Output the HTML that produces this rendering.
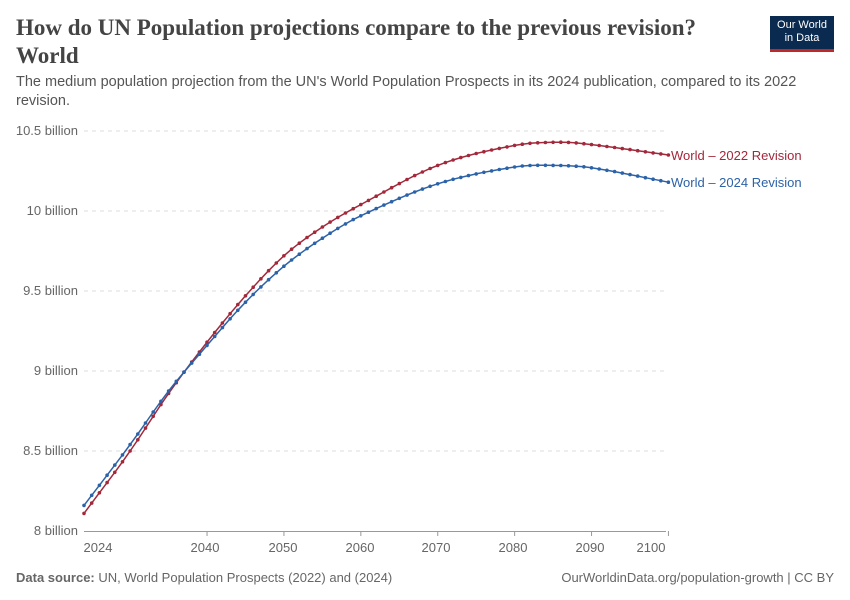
<!DOCTYPE html>
<html><head><meta charset="utf-8"><style>
body{margin:0;width:850px;height:600px;background:#fff;font-family:"Liberation Sans",sans-serif;overflow:hidden;position:relative}
.t{position:absolute;left:16px;top:14px;font-family:"Liberation Serif",serif;font-size:23px;line-height:28px;color:#444;font-weight:bold;width:720px}
.s{position:absolute;left:16px;top:73px;font-size:14.5px;line-height:19px;color:#555;width:820px}
.logo{position:absolute;left:770px;top:16px;width:64px;height:36px;background:#0b2a4f;color:#fff;font-size:11px;text-align:center;line-height:13px;padding-top:3px;box-sizing:border-box;border-bottom:3px solid #c02929}
.f{position:absolute;top:570px;font-size:13px;color:#666}
</style></head><body>
<div class="t">How do UN Population projections compare to the previous revision?<br>World</div>
<div class="s">The medium population projection from the UN's World Population Prospects in its 2024 publication, compared to its 2022 revision.</div>
<div class="logo">Our World<br>in Data</div>
<div class="f" style="left:16px"><b>Data source:</b> UN, World Population Prospects (2022) and (2024)</div>
<div class="f" style="right:16px">OurWorldinData.org/population-growth | CC BY</div>
<svg id="c" width="850" height="600" style="position:absolute;left:0;top:0" font-family="Liberation Sans, sans-serif"></svg>
<script>
const svg=document.getElementById('c');let h='';
const Y=v=>531-(v-8)*160, X=yr=>84+(yr-2024)*7.69;
[8,8.5,9,9.5,10,10.5].forEach(v=>{const y=Y(v);
 if(v>8)h+=`<line x1="84" x2="666" y1="${y}" y2="${y}" stroke="#ddd" stroke-dasharray="4,4"/>`;
 h+=`<text x="78" y="${y+4}" text-anchor="end" font-size="13" fill="#666">${v==8?'8':v==10?'10':v==10.5?'10.5':v} billion</text>`;});
h+=`<line x1="84" x2="666" y1="531.5" y2="531.5" stroke="#999"/>`;
[[2024,98],[2040,205],[2050,283],[2060,360],[2070,436],[2080,513],[2090,590],[2100,651]].forEach(([l,x])=>{
 h+=`<text x="${x}" y="552" text-anchor="middle" font-size="13" fill="#666">${l}</text>`;});
[2040,2050,2060,2070,2080,2090,2100].forEach(yr=>h+=`<line x1="${X(yr)}" x2="${X(yr)}" y1="531" y2="536" stroke="#999"/>`);
function interp(a,t){let i=0;while(i<a.length-2&&t>a[i+1][0])i++;
 const p0=a[Math.max(i-1,0)],p1=a[i],p2=a[i+1],p3=a[Math.min(i+2,a.length-1)];
 const u=(t-p1[0])/(p2[0]-p1[0]),d=p2[0]-p1[0];
 const m1=(p2[1]-p0[1])/(p2[0]-p0[0])*d,m2=(p3[1]-p1[1])/(p3[0]-p1[0])*d;
 const u2=u*u,u3=u2*u;return (2*u3-3*u2+1)*p1[1]+(u3-2*u2+u)*m1+(-2*u3+3*u2)*p2[1]+(u3-u2)*m2;}
const red=[[2024,8.11],[2030,8.5],[2035,8.86],[2040,9.18],[2045,9.47],[2050,9.72],[2055,9.90],[2060,10.04],[2070,10.285],[2080,10.41],[2086,10.43],[2090,10.415],[2100,10.35]];
const blue=[[2024,8.16],[2030,8.54],[2035,8.875],[2040,9.16],[2045,9.43],[2050,9.655],[2055,9.83],[2060,9.97],[2070,10.17],[2080,10.275],[2085,10.285],[2090,10.27],[2100,10.18]];
function draw(a,c){let p='',d='';for(let yr=2024;yr<=2100;yr++){const x=X(yr),y=Y(interp(a,yr));
 p+=(yr==2024?'M':'L')+x.toFixed(1)+','+y.toFixed(1);d+=`<circle cx="${x.toFixed(1)}" cy="${y.toFixed(1)}" r="1.8" fill="${c}"/>`;}
 h+=`<path d="${p}" fill="none" stroke="${c}" stroke-width="1.5"/>`+d;}
draw(red,'#a2283a');draw(blue,'#2c62a8');
h+=`<text x="671" y="160" font-size="13" fill="#a2283a">World – 2022 Revision</text>`;
h+=`<text x="671" y="187" font-size="13" fill="#2c62a8">World – 2024 Revision</text>`;
svg.innerHTML=h;
</script>
</body></html>
